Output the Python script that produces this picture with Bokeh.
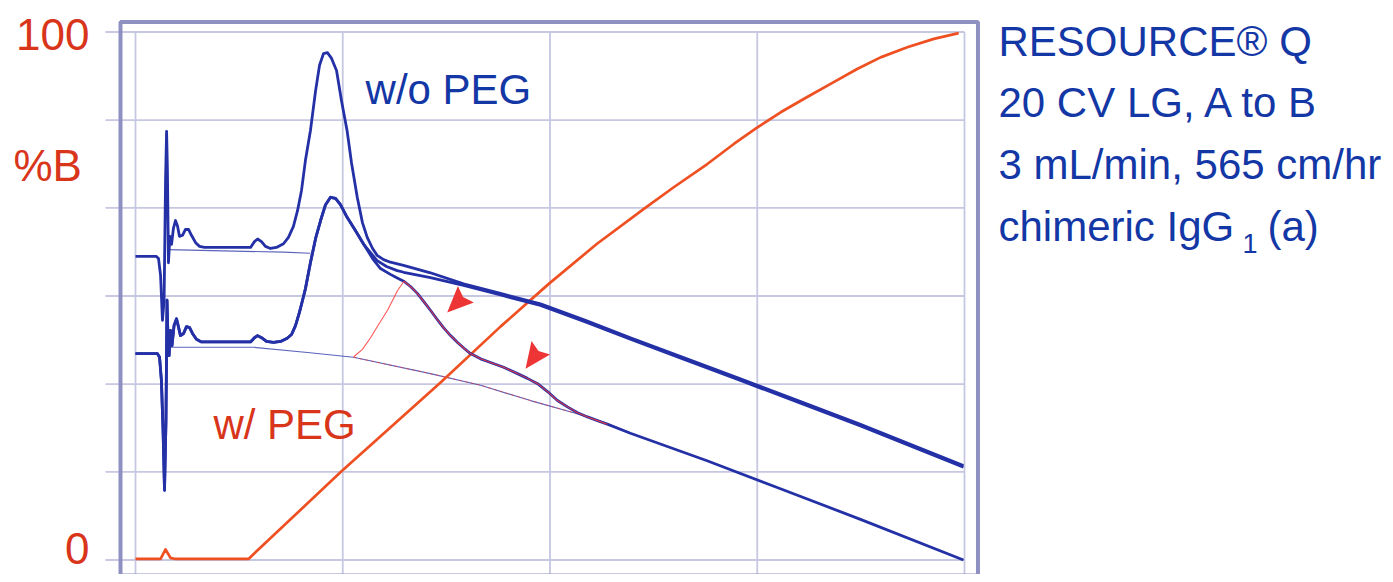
import math
from bokeh.plotting import figure
from bokeh.models import Range1d
from bokeh.embed import file_html
from bokeh.resources import INLINE
from bokeh.core.properties import value

# ---------------- data (x: elution volume in grid units, y: % of full scale / %B) ----------------
x_grid = [0, 10, 20, 30, 40]
y_grid = [0, 16.7, 33.3, 50, 66.7, 83.3, 100]

# w/o PEG chromatogram
upper_x = [0, 1.01, 1.11, 1.21, 1.30, 1.38, 1.45, 1.50, 1.54, 1.59, 1.66, 1.74, 1.83, 1.93, 2.03, 2.12,
           2.27, 2.41, 2.56, 2.70, 2.90, 3.09, 3.33, 5.55, 5.74, 5.89, 6.08, 6.27, 6.51, 6.80, 7.14, 7.38,
           7.62, 7.82, 8.01, 8.20, 8.44, 8.69, 8.88, 9.07, 9.26, 9.46, 9.70, 9.94, 10.21, 10.42, 10.70,
           10.95, 11.18, 11.44, 11.66, 11.97, 12.30, 12.93, 14.23, 15.83, 17.61, 19.54, 21.71, 23.88,
           26.54, 29.19, 32.09, 34.98, 37.39, 39.95]
upper_y = [57.5, 57.5, 57.1, 53.9, 45.4, 49.2, 71.9, 81.2, 73.8, 56.3, 61.3, 59.8, 62.8, 64.3, 63.2, 61.3,
           61.5, 62.6, 62.6, 61.5, 60.1, 59.4, 59.2, 59.2, 60.3, 60.8, 60.3, 59.4, 59.0, 59.2, 59.9, 61.1,
           63.2, 66.2, 70.0, 75.7, 81.3, 88.9, 93.7, 95.9, 96.1, 95.0, 92.7, 87.0, 81.3, 75.3, 68.7,
           63.9, 61.1, 59.0, 57.7, 56.9, 56.4, 55.8, 54.4, 52.3, 50.5, 48.5, 45.4, 42.1,
           38.2, 34.3, 30.0, 25.7, 21.9, 17.9]

# w/ PEG chromatograms (shared front part)
peg_x = [0, 1.06, 1.16, 1.25, 1.33, 1.40, 1.47, 1.52, 1.57, 1.62, 1.69, 1.76, 1.86, 1.98, 2.07, 2.17,
         2.32, 2.46, 2.61, 2.75, 2.94, 3.18, 5.55, 5.74, 5.89, 6.08, 6.32, 6.66, 7.00, 7.32, 7.53, 7.72,
         7.91, 8.06, 8.20, 8.44, 8.69, 8.93, 9.17, 9.41, 9.65, 9.89, 10.21, 10.61, 11.01]
peg_y = [39.1, 39.1, 38.4, 34.0, 24.5, 13.2, 26.4, 49.2, 41.6, 38.7, 43.5, 40.6, 44.4, 45.7, 44.2, 42.5,
         42.9, 44.2, 44.0, 42.9, 41.8, 41.3, 41.3, 42.1, 42.5, 42.1, 41.4, 41.2, 41.4, 42.0, 42.7, 44.4,
         46.9, 49.2, 51.4, 56.3, 60.9, 64.3, 67.3, 68.7, 68.5, 67.3, 64.9, 62.4, 59.8]

tail_a_x = [11.34, 11.66, 12.11, 12.63, 12.94, 14.23, 15.83, 17.61, 19.54, 21.71, 23.88, 26.54, 29.19,
            32.09, 34.98, 37.39, 39.95]
tail_a_y = [58.2, 56.7, 55.6, 54.8, 54.5, 53.5, 52.0, 50.2, 48.2, 45.1, 41.8, 37.9, 34.0,
            29.7, 25.4, 21.6, 17.6]

tail_b_x = [11.44, 11.82, 12.30, 12.63, 12.94, 13.27, 13.60, 13.92, 14.23, 14.55, 14.86, 15.20, 15.54,
            15.85, 16.16, 16.65, 17.13, 17.76, 18.43, 18.91, 19.40, 19.88, 20.36, 20.84, 21.33, 21.81,
            22.29, 22.77, 23.88, 27.58, 31.12, 34.98, 39.95]
tail_b_y = [57.1, 55.2, 54.1, 53.4, 52.8, 51.8, 50.5, 48.9, 47.3, 45.6, 44.0, 42.5, 41.2,
            40.1, 39.1, 38.1, 37.4, 36.5, 35.3, 34.4, 33.4, 31.9, 30.2, 29.0, 27.9, 27.1,
            26.4, 25.7, 24.0, 18.8, 13.5, 7.7, 0.0]

# integration baselines
base_low_x = [1.59, 5.69, 8.30, 10.52, 14.23, 16.65, 19.06, 21.23, 22.77, 23.88]
base_low_y = [40.3, 40.3, 39.3, 38.4, 35.3, 33.1, 30.2, 27.8, 25.9, 24.1]
base_up_x = [1.59, 7.14, 8.44]
base_up_y = [58.8, 58.3, 58.1]

# fraction (red) rise
frac_x = [10.53, 10.95, 11.34, 11.73, 12.16, 12.64, 12.95]
frac_y = [38.5, 39.9, 42.1, 44.6, 47.3, 51.0, 52.8]

# %B gradient
grad_x = [0, 1.21, 1.45, 1.69, 1.93, 5.45, 9.94, 14.72, 17.61, 19.94, 22.24, 24.53, 25.97, 27.59,
          28.87, 29.92, 31.13, 32.41, 33.69, 34.82, 35.95, 37.24, 38.52, 39.72]
grad_y = [0.2, 0.2, 2.0, 0.4, 0.2, 0.2, 16.8, 33.6, 44.2, 52.3, 59.8, 66.5, 70.6, 75.0,
          78.8, 81.7, 84.8, 87.7, 90.5, 93.0, 95.2, 97.1, 98.7, 99.8]

# arrowheads marking shoulders: tip position and pointing direction (degrees)
arrow_tip_x = [15.04, 18.82]
arrow_tip_y = [46.9, 36.2]
arrow_dir = [224, 234]

info_lines = ["RESOURCE® Q", "20 CV LG, A to B", "3 mL/min, 565 cm/hr", "chimeric IgG"]

# ---------------- styling ----------------
BLUE = "#2430a6"
ORANGE = "#ef5022"
RED_TXT = "#d8351b"
BLUE_TXT = "#1437a6"
GRID = "#c6c7e0"
FRAME = "#8e90c2"
FONT = value("Liberation Sans")

W, H = 1385, 574
X0, Y0 = -6.514, -2.746
X1, Y1 = 60.314, 105.97
PX_X = W / (X1 - X0)    # pixels per x unit
PX_Y = H / (Y1 - Y0)    # pixels per y unit

p = figure(width=W, height=H, output_backend="svg", toolbar_location=None,
           x_range=Range1d(X0, X1), y_range=Range1d(Y0, Y1),
           min_border=0, x_axis_location=None, y_axis_location=None)
p.outline_line_color = None
p.grid.visible = False
p.background_fill_color = "white"

# grid
p.segment(x0=x_grid, y0=[-6] * len(x_grid), x1=x_grid, y1=[100] * len(x_grid),
          line_color=GRID, line_width=1.8)
p.segment(x0=[-1.45] * len(y_grid), y0=y_grid, x1=[40] * len(y_grid), y1=y_grid,
          line_color=GRID, line_width=1.8)

# frame
p.quad(left=[-0.724], right=[40.65], bottom=[-2.94], top=[101.89],
       fill_color=None, line_color=FRAME, line_width=4)

# baselines
p.line(base_up_x, base_up_y, line_color=BLUE, line_width=1.2, line_alpha=0.75)
p.line(base_low_x, base_low_y, line_color=BLUE, line_width=1.2, line_alpha=0.75)
p.line(base_low_x[3:], base_low_y[3:], line_color="#ff3030", line_width=1, line_alpha=0.6,
       line_dash="3 3")

# gradient
p.line(grad_x, grad_y, line_color=ORANGE, line_width=2.7, line_join="round")

# chromatograms
p.line(upper_x, upper_y, line_color=BLUE, line_width=2.8, line_join="round")
p.line(peg_x + tail_a_x, peg_y + tail_a_y, line_color=BLUE, line_width=2.8, line_join="round")
p.line(peg_x + tail_b_x, peg_y + tail_b_y, line_color=BLUE, line_width=2.8, line_join="round")

# fraction line (red)
p.line(frac_x + tail_b_x[5:28], frac_y + tail_b_y[5:28], line_color="#ff3a3a", line_width=1.1,
       line_alpha=0.85)

# arrowheads (shape in pixels: length, half width, notch)
A_LEN, A_HALF, A_NOTCH = 26, 11.5, 4
axs, ays = [], []
for tx, ty, d in zip(arrow_tip_x, arrow_tip_y, arrow_dir):
    ux, uy = math.cos(math.radians(d)), math.sin(math.radians(d))
    nx, ny = -uy, ux
    pts = [(0, 0),
           (-A_LEN * ux + A_HALF * nx, -A_LEN * uy + A_HALF * ny),
           (-(A_LEN - A_NOTCH) * ux, -(A_LEN - A_NOTCH) * uy),
           (-A_LEN * ux - A_HALF * nx, -A_LEN * uy - A_HALF * ny)]
    axs.append([tx + px / PX_X for px, py in pts])
    ays.append([ty + py / PX_Y for px, py in pts])
p.patches(axs, ays, fill_color="#ee3535", line_color=None)

# left labels
p.text(x=[-2.22], y=[99.53], text=["100"], text_font=FONT,
       text_font_size="44px", text_color=RED_TXT, text_align="right", text_baseline="alphabetic")
p.text(x=[-2.22], y=[2.18], text=["0"], text_font=FONT,
       text_font_size="44px", text_color=RED_TXT, text_align="right", text_baseline="alphabetic")
p.text(x=[-5.89], y=[74.73], text=["%B"], text_font=FONT, text_font_size="44px",
       text_color=RED_TXT, text_align="left", text_baseline="alphabetic")

# series labels
p.text(x=[11.10], y=[89.13], text=["w/o PEG"], text_font=FONT, text_font_size="42px",
       text_color=BLUE_TXT, text_align="left", text_baseline="alphabetic")
p.text(x=[3.76], y=[25.63], text=["w/ PEG"], text_font=FONT, text_font_size="42px",
       text_color=RED_TXT, text_align="left", text_baseline="alphabetic")

# info block
p.text(x=[41.64] * 4, y=[98.26, 86.59, 74.91, 63.22], text=info_lines, text_font=FONT,
       text_font_size="42px", text_color=BLUE_TXT, text_align="left", text_baseline="alphabetic")
p.text(x=[53.41], y=[59.9], text=["1"], text_font=FONT, text_font_size="27px",
       text_color=BLUE_TXT, text_align="left", text_baseline="alphabetic")
p.text(x=[54.62], y=[63.22], text=["(a)"], text_font=FONT, text_font_size="42px",
       text_color=BLUE_TXT, text_align="left", text_baseline="alphabetic")

open("out.html", "w").write(file_html(p, INLINE))
